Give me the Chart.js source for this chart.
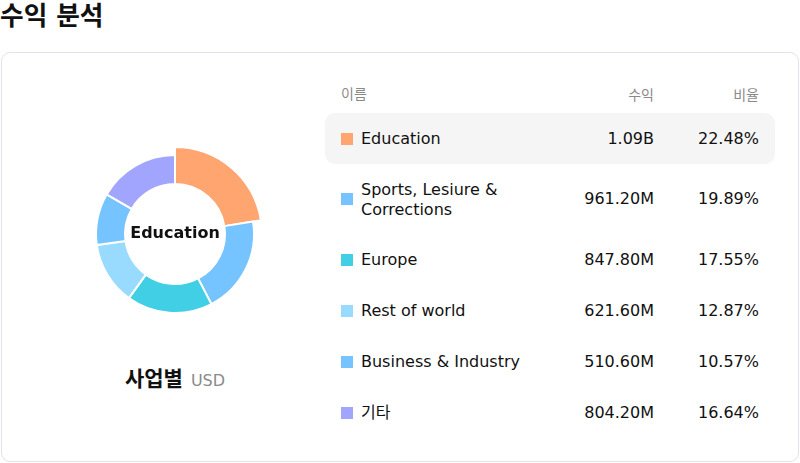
<!DOCTYPE html>
<html lang="ko">
<head>
<meta charset="utf-8">
<script src="https://cdn.jsdelivr.net/npm/chart.js@4"></script>
<style>
  html, body { margin: 0; padding: 0; background: #fff; }
  body { width: 800px; height: 463px; position: relative; overflow: hidden;
         font-family: "DejaVu Sans", "Noto Sans CJK KR", sans-serif; color: #111; }
  #title { position: absolute; left: 0; top: 0; font-size: 25.7px; font-weight: bold; line-height: 32px; }
  #card { position: absolute; left: 1px; top: 52px; width: 796px; height: 408px;
          border: 1px solid #e2e2ee; border-radius: 9px; }
  #chartBox { position: absolute; left: 75px; top: 133.5px; width: 200px; height: 200px; }
  #sub { position: absolute; left: 0; width: 350px; top: 365px; text-align: center; line-height: 28px; }
  #sub b { font-size: 21px; }
  #sub span { font-size: 16px; color: #8a8a8a; margin-left: 8px; }
  #table { position: absolute; left: 325px; top: 85px; width: 450px; }
  .hdr { position: relative; height: 20px; font-size: 14px; color: #8a8a8a; line-height: 20px; margin-bottom: 8px; }
  .row { position: relative; height: 51px; font-size: 16px; }
  .row.tall { height: 70px; }
  .row.active { background: #f5f5f5; border-radius: 10px; }
  .sw { position: absolute; left: 16px; top: 50%; width: 12px; height: 12px; margin-top: -6px; }
  .nm { position: absolute; left: 36px; top: 50%; transform: translateY(-50%); width: 190px; line-height: 19.5px; }
  .val { position: absolute; right: 121px; top: 50%; transform: translateY(-50%); line-height: 20px; }
  .pct { position: absolute; right: 16px; top: 50%; transform: translateY(-50%); line-height: 20px; }
  .hdr .nm { left: 16px; }
</style>
</head>
<body>
<div id="title">수익 분석</div>
<div id="card"></div>
<div id="chartBox"><canvas id="c" width="200" height="200"></canvas></div>
<div id="sub"><b>사업별</b><span>USD</span></div>
<div id="table"></div>
<script>
const categories = ["Education", "Sports, Lesiure & Corrections", "Europe", "Rest of world", "Business & Industry", "기타"];
const revenueMillions = [1086.2, 961.2, 847.8, 621.6, 510.6, 804.2];
const revenueLabels = ["1.09B", "961.20M", "847.80M", "621.60M", "510.60M", "804.20M"];
const shareLabels = ["22.48%", "19.89%", "17.55%", "12.87%", "10.57%", "16.64%"];
const colors = ["#ffa570", "#76c4ff", "#40cfe4", "#99dbff", "#76c4ff", "#a2a5fe"];
const headers = ["이름", "수익", "비율"];
const activeIndex = 0;

// table
const table = document.getElementById('table');
let html = '<div class="hdr"><div class="nm">' + headers[0] + '</div><div class="val">' + headers[1] +
           '</div><div class="pct">' + headers[2] + '</div></div>';
categories.forEach((name, i) => {
  const cls = 'row' + (i === activeIndex ? ' active' : '') + (name.length > 22 ? ' tall' : '');
  html += '<div class="' + cls + '"><div class="sw" style="background:' + colors[i] + '"></div>' +
          '<div class="nm">' + name + '</div><div class="val">' + revenueLabels[i] +
          '</div><div class="pct">' + shareLabels[i] + '</div></div>';
});
table.innerHTML = html;

const growActive = {
  id: 'growActive',
  beforeDatasetsDraw(chart) {
    const arc = chart.getDatasetMeta(0).data[activeIndex];
    if (arc) arc.outerRadius = 87;
  },
  afterDatasetsDraw(chart) {
    const arc = chart.getDatasetMeta(0).data[0];
    const ctx = chart.ctx;
    ctx.save();
    ctx.font = 'bold 16px "DejaVu Sans", "Noto Sans CJK KR", sans-serif';
    ctx.fillStyle = '#111';
    ctx.textAlign = 'center';
    ctx.textBaseline = 'middle';
    ctx.fillText(categories[activeIndex], arc.x, arc.y);
    ctx.restore();
  }
};

new Chart(document.getElementById('c'), {
  type: 'doughnut',
  data: {
    labels: categories,
    datasets: [{
      data: revenueMillions,
      backgroundColor: colors,
      borderColor: '#ffffff',
      borderWidth: 2
    }]
  },
  options: {
    responsive: false,
    animation: false,
    radius: 79,
    cutout: '63.3%',
    layout: { padding: 0 },
    plugins: { legend: { display: false }, tooltip: { enabled: false } }
  },
  plugins: [growActive]
});
</script>
</body>
</html>
